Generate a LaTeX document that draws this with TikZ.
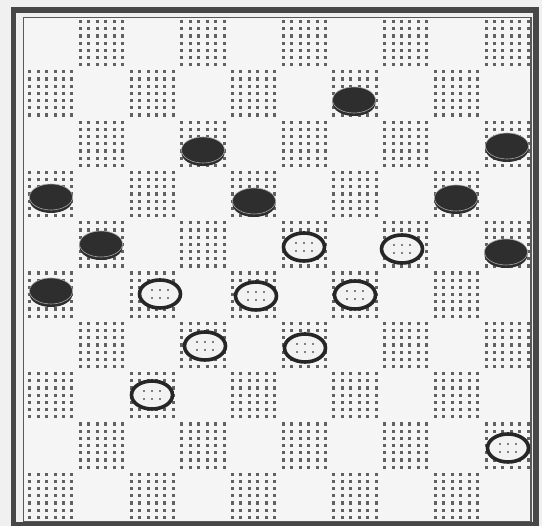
\documentclass[tikz,border=0pt]{standalone}
\usetikzlibrary{shapes.geometric}
\begin{document}
\begin{tikzpicture}[x=1pt,y=-1pt,
  dot/.style={fill=black!62},
  idot/.style={fill=black!50},
  blackpc/.style={ellipse,fill=black!82,draw=black!35,line width=0.6pt,minimum width=43pt,minimum height=26pt,inner sep=0pt},
  blackside/.style={fill=black!82},
  whitepc/.style={ellipse,draw=black!85,line width=3.6pt,fill=white!95!black,minimum width=41pt,minimum height=28pt,inner sep=0pt}]
\useasboundingbox (0,0) rectangle (542,526);
\fill[black!6] (0,0) rectangle (542,526);
\fill[white!96!black] (23.5,17.5) rectangle (531,521.5);
% stippled dark squares
\foreach \r in {0,...,9}{
  \foreach \c in {0,...,9}{
    \pgfmathtruncatemacro{\odd}{mod(\r+\c,2)}
    \ifnum\odd=1
      \foreach \i in {0,...,5}{
        \foreach \j in {0,...,6}{
          \fill[dot] ({24+\c*50.7+(\i+0.5)*50.7/6},{18+\r*50.3+(\j+0.5)*50.3/7-1.6}) rectangle ++(3,3.2);
        }}
    \fi
  }}
% frame
\draw[black!72,line width=5.5pt] (13.5,10) rectangle (536,524.5);
\draw[black!65,line width=1.2pt] (23.5,17.5) rectangle (531,521.5);
% black pieces
\foreach \n/\x/\y in {b1/354/100,b2/203/150,b3/507/146,b4/51/197,b5/254/201,b6/456/198,b7/101/244,b8/506/252,b9/51/291}{
  \fill[blackside] (\x,\y+3) ellipse[x radius=21.5pt,y radius=13pt];
  \node[blackpc] (\n) at (\x,\y) {};
}
% white pieces
\foreach \n/\x/\y in {w1/304/247,w2/402/249,w3/160/294,w4/256/296,w5/355/295,w6/205/346,w7/305/348,w8/152/395,w9/508/448}{
  \node[whitepc] (\n) at (\x,\y) {};
  \foreach \i in {-1,0,1}{
    \foreach \j in {-1,1}{
      \fill[idot] ({\x+\i*8-1.2},{\y+\j*4-1.2}) rectangle ++(2.4,2.4);
    }}
}
\end{tikzpicture}
\end{document}
